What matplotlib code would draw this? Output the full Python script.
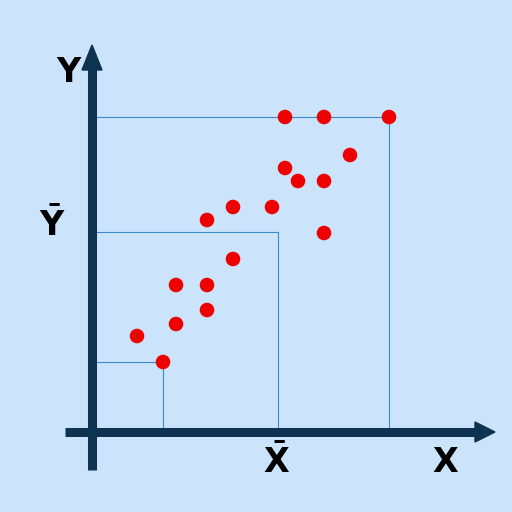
import matplotlib
matplotlib.use("Agg")
import matplotlib.pyplot as plt
from matplotlib.patches import Polygon

xs = [4.5,7.1,8.4,8.4,11.5,11.5,11.5,14.1,14.1,18.0,19.3,19.3,20.6,23.2,23.2,23.2,25.8,29.7]
ys = [9.6,7.0,14.7,10.8,14.7,12.2,21.2,22.5,17.3,22.5,26.4,31.5,25.1,25.1,31.5,19.9,27.7,31.5]
guide_x = [7.1, 18.6, 29.7]
guide_y = [7.0, 20.0, 31.5]

bg = '#cce4fb'
navy = '#0e3350'
fig = plt.figure(figsize=(5.12,5.12), dpi=100, facecolor=bg)
ax = fig.add_axes([0,0,1,1], facecolor=bg)
ax.set_xlim(-9.2, 42.0)
ax.set_ylim(-8.0, 43.2)
ax.axis('off')

for gx, gy in zip(guide_x, guide_y):
    ax.plot([gx, gx], [0, gy], color='#3a8cc4', lw=0.8, zorder=1)
    ax.plot([0.5, gx], [gy, gy], color='#3a8cc4', lw=0.8, zorder=1)

ax.scatter(xs, ys, s=110, color='#ee0000', zorder=3, edgecolors='none')

ax.plot([0, 0], [-3.8, 37], color=navy, lw=6.5, solid_capstyle='butt', zorder=2)
ax.plot([-2.7, 38.5], [0, 0], color=navy, lw=6.5, solid_capstyle='butt', zorder=2)
ax.add_patch(Polygon([[-1.0, 36.2], [1.0, 36.2], [0, 38.7]], closed=True, color=navy, zorder=2))
ax.add_patch(Polygon([[38.3, 1.0], [38.3, -1.0], [40.3, 0]], closed=True, color=navy, zorder=2))

kw = dict(fontsize=24, fontweight='bold', color='black', ha='center', va='center')
ax.text(-2.4, 36.0, 'Y', **kw)
ax.text(-4.0, 20.7, r'$\mathbf{\bar{Y}}$', **kw)
ax.text(18.5, -3.0, r'$\mathbf{\bar{X}}$', **kw)
ax.text(35.3, -3.0, 'X', **kw)

fig.savefig('out.png', dpi=100, facecolor=bg)
